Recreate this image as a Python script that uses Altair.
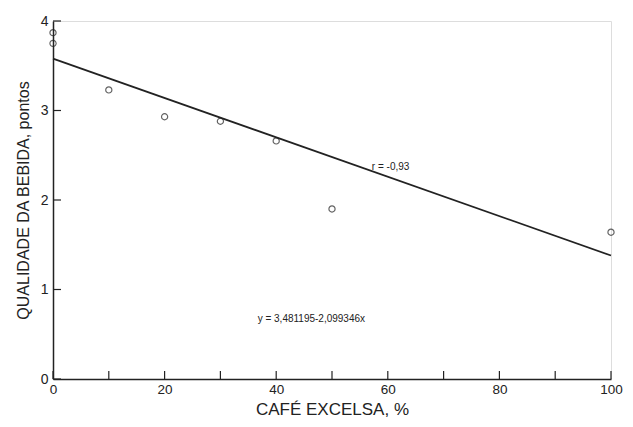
import altair as alt
import pandas as pd

# data
excelsa = [0, 0, 10, 20, 30, 40, 50, 100]
qualidade = [3.87, 3.75, 3.23, 2.93, 2.88, 2.66, 1.90, 1.64]
line_x = [0, 100]
line_y = [3.58, 1.38]
x_ticks = [0, 10, 20, 30, 40, 50, 60, 70, 80, 90, 100]
x_labels = [0, 20, 40, 60, 80, 100]
y_ticks = [0, 1, 2, 3, 4]
notes = ["r = -0,93", "y = 3,481195-2,099346x"]
note_x = [60.5, 46.3]
note_y = [2.37, 0.67]

W, H = 558, 358
FONT = "Liberation Sans"

pts = pd.DataFrame({"x": excelsa, "y": qualidade})
ln = pd.DataFrame({"x": line_x, "y": line_y})
xt = pd.DataFrame({"x": x_ticks})
yt = pd.DataFrame({"y": y_ticks})
nt = pd.DataFrame({"x": note_x, "y": note_y, "t": notes})

xs = alt.Scale(domain=[0, 100], nice=False, zero=False)
ys = alt.Scale(domain=[0, 4], nice=False, zero=False)

xaxis = alt.Axis(values=x_labels, ticks=False, grid=False, domainColor="#222",
                 domainWidth=1.5, labelFont=FONT, labelFontSize=13.5, labelColor="#222",
                 labelPadding=3, format="d", title="CAFÉ EXCELSA, %", titleFont=FONT,
                 titleFontSize=17, titleFontWeight="normal", titleColor="#222",
                 titlePadding=6, labelFlush=False)
yaxis = alt.Axis(values=y_ticks, ticks=False, grid=False, domainColor="#222",
                 domainWidth=1.5, labelFont=FONT, labelFontSize=14, labelColor="#222",
                 labelPadding=5, format="d", title="QUALIDADE DA BEBIDA, pontos", titleFont=FONT,
                 titleFontSize=16, titleFontWeight="normal", titleColor="#222",
                 titlePadding=9, labelFlush=False)

base_pts = alt.Chart(pts).mark_point(shape="circle", filled=False, color="#222",
                                     strokeWidth=1.2, size=38).encode(
    x=alt.X("x:Q", scale=xs, axis=xaxis),
    y=alt.Y("y:Q", scale=ys, axis=yaxis),
)

reg = alt.Chart(ln).mark_line(color="#222", strokeWidth=1.8).encode(
    x=alt.X("x:Q", scale=xs), y=alt.Y("y:Q", scale=ys))

xtk = alt.Chart(xt).mark_rule(color="#222", strokeWidth=1.2).encode(
    x=alt.X("x:Q", scale=xs), y=alt.value(H), y2=alt.value(H - 8))

ytk = alt.Chart(yt).mark_rule(color="#222", strokeWidth=1.2).encode(
    y=alt.Y("y:Q", scale=ys), x=alt.value(0), x2=alt.value(8))

txt = alt.Chart(nt).mark_text(font=FONT, fontSize=10, color="#222").encode(
    x=alt.X("x:Q", scale=xs), y=alt.Y("y:Q", scale=ys), text="t:N")

chart = alt.layer(reg, base_pts, xtk, ytk, txt).properties(
    width=W, height=H,
    autosize=alt.AutoSizeParams(type="none"),
    padding={"left": 45, "top": 13, "right": 14, "bottom": 40},
).configure_view(stroke=None).configure(background="white")

chart.save("out.html", embed_options={"renderer": "svg", "actions": False})
